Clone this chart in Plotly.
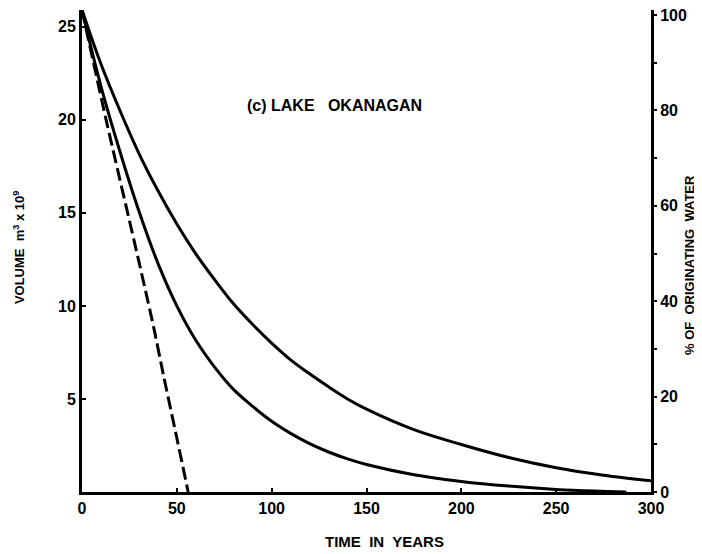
import plotly.graph_objects as go

# ---- data ----
t_upper = [0, 10, 20, 30, 40, 50, 60, 70, 80, 90, 100, 110, 120, 130, 140, 150, 175, 200, 225, 250, 275, 300]
v_upper = [25.9, 23.0, 20.5, 18.2, 16.2, 14.4, 12.8, 11.4, 10.1, 9.0, 8.0, 7.1, 6.35, 5.65, 5.0, 4.45,
           3.35, 2.55, 1.85, 1.3, 0.9, 0.6]

t_middle = [0, 10, 20, 30, 40, 50, 60, 70, 80, 90, 100, 110, 120, 130, 140, 150, 175, 200, 225, 250, 270, 287]
v_middle = [25.9, 21.8, 18.3, 15.1, 12.3, 10.0, 8.15, 6.7, 5.5, 4.6, 3.8, 3.15, 2.6, 2.15, 1.78, 1.48,
            0.93, 0.57, 0.32, 0.14, 0.05, 0.0]

t_dashed = [0, 12.7, 29.8, 37.7, 42.9, 50, 56]
v_dashed = [25.9, 20.0, 12.47, 8.9, 6.3, 2.9, 0.0]

x_ticks = [0, 50, 100, 150, 200, 250, 300]
y_ticks = [5, 10, 15, 20, 25]
pct_ticks = [0, 20, 40, 60, 80, 100]

FONT = "Liberation Sans, Arial, sans-serif"

fig = go.Figure()
fig.add_trace(go.Scatter(x=t_upper, y=v_upper, mode="lines",
                         line=dict(color="black", width=3, shape="spline", smoothing=1.0),
                         showlegend=False, hoverinfo="skip"))
fig.add_trace(go.Scatter(x=t_middle, y=v_middle, mode="lines",
                         line=dict(color="black", width=3, shape="spline", smoothing=1.0),
                         showlegend=False, hoverinfo="skip"))
fig.add_trace(go.Scatter(x=t_dashed, y=v_dashed, mode="lines",
                         line=dict(color="black", width=3, dash="13px,5px", shape="spline", smoothing=0.5),
                         showlegend=False, hoverinfo="skip"))
# invisible trace to activate the right axis
fig.add_trace(go.Scatter(x=[0], y=[0], yaxis="y2", mode="markers",
                         marker=dict(opacity=0), showlegend=False, hoverinfo="skip"))

tickfont = dict(family=FONT, size=16, color="black", weight="bold")
titlefont = dict(family=FONT, size=13, color="black", weight="bold")

# the page body adds an 8px offset, so the figure is 8px smaller on each side
fig.update_layout(
    width=694, height=546,
    margin=dict(l=74, r=51, t=2, b=62),
    paper_bgcolor="white", plot_bgcolor="white",
    xaxis=dict(range=[0, 300], tickvals=x_ticks, ticks="inside", ticklen=4,
               tickwidth=2, tickcolor="black", automargin=False,
               showline=True, linecolor="black", linewidth=3,
               showgrid=False, zeroline=False, tickfont=tickfont),
    yaxis=dict(range=[0, 25.9], tickvals=y_ticks, ticks="inside", ticklen=4,
               tickwidth=2, tickcolor="black", automargin=False,
               showline=True, linecolor="black", linewidth=3,
               showgrid=False, zeroline=False, tickfont=tickfont),
    yaxis2=dict(range=[0, 101.05], overlaying="y", side="right", tickvals=pct_ticks,
                ticks="outside", ticklen=3, tickwidth=2, tickcolor="black", automargin=False,
                ticklabeloverflow="allow",
                minor=dict(dtick=10, ticks="outside", ticklen=3, tickwidth=2, tickcolor="black"),
                showline=True, linecolor="black", linewidth=3,
                showgrid=False, zeroline=False, tickfont=tickfont),
    annotations=[
        dict(text="(c) LAKE   OKANAGAN", x=132.9, y=20.75, xref="x", yref="y",
             xanchor="center", yanchor="middle", showarrow=False,
             font=dict(family=FONT, size=16, color="black", weight="bold")),
        dict(text="TIME  IN  YEARS", x=0.5325, y=-0.1017, xref="paper", yref="paper",
             xanchor="center", yanchor="middle", showarrow=False,
             font=dict(family=FONT, size=15, color="black", weight="bold")),
        dict(text="VOLUME  m<sup>3</sup> x 10<sup>9</sup>", x=-0.1107, y=0.506,
             xref="paper", yref="paper", textangle=-90,
             xanchor="center", yanchor="middle", showarrow=False, font=titlefont),
        dict(text="% OF  ORIGINATING  WATER", x=1.0685, y=0.471,
             xref="paper", yref="paper", textangle=-90,
             xanchor="center", yanchor="middle", showarrow=False, font=titlefont),
    ],
)

fig.write_html("out.html")
